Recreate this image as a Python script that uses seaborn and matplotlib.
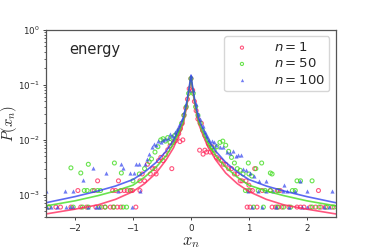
import numpy as np
import pandas as pd
import matplotlib
matplotlib.use("Agg")
import matplotlib.pyplot as plt
import seaborn as sns

# ── fitted curves (symmetric about 0) ──
curve_x_half = [0.0, 0.03, 0.07, 0.13, 0.2, 0.3, 0.43, 0.6, 0.8, 1.0, 1.3, 1.6, 2.0, 2.5]
curve_n1   = [0.13, 0.08, 0.042, 0.02, 0.0128, 0.0072, 0.0043, 0.0025, 0.0016, 0.00115, 0.00083, 0.00066, 0.00055, 0.00045]
curve_n50  = [0.14, 0.085, 0.046, 0.022, 0.0145, 0.0085, 0.0051, 0.0032, 0.0021, 0.0015, 0.00118, 0.00097, 0.00078, 0.00063]
curve_n100 = [0.15, 0.09, 0.05, 0.025, 0.0165, 0.0098, 0.0062, 0.0039, 0.0026, 0.0019, 0.00145, 0.00118, 0.00093, 0.00072]

# ── histogram points ──
L1, L2 = 6e-4, 1.2e-3   # one and two counts

x_n1_low = [-2.46, -2.33, -2.25, -2.07, -1.90, -1.80, -1.64, -1.54, -1.48, -1.39, -1.34, -1.27, -1.21, -0.95,
            0.97, 1.02, 1.14, 1.40, 1.46, 1.51, 1.57, 1.69, 1.83, 1.89, 1.95, 2.06, 2.15, 2.24, 2.32, 2.44]
x_n1_two = [-1.95, -1.67, -1.35, -1.30, -1.21, -1.15, -1.10, -1.04, -1.01, -0.88,
            1.02, 1.06, 1.23, 1.37, 1.49, 1.54, 2.20]
x_n1_mid = [-1.61, -1.25, -0.88, -0.84, -0.80, -0.75, -0.70, -0.66, -0.62, -0.60, -0.56, -0.52, -0.48,
            -0.44, -0.40, -0.36, -0.33, -0.30, -0.27, -0.24, -0.21, -0.18, -0.15, -0.12, -0.09, -0.06,
            -0.03, 0.0, 0.03, 0.06, 0.09, 0.12, 0.15, 0.18, 0.21, 0.24, 0.27, 0.30, 0.33, 0.36, 0.40,
            0.44, 0.48, 0.52, 0.56, 0.60, 0.65, 0.70, 0.75, 0.80, 0.85, 0.88, 0.95, 1.0, 1.1, -0.19, -0.14]
y_n1_mid = [1.8e-3, 1.8e-3, 1.8e-3, 2.4e-3, 1.8e-3, 3.6e-3, 2.4e-3, 3.0e-3, 3.0e-3, 2.4e-3, 4.2e-3, 4.8e-3, 4.2e-3,
            5.4e-3, 6.6e-3, 7.8e-3, 3.0e-3, 9.0e-3, 9.6e-3, 1.1e-2, 1.3e-2, 1.6e-2, 2.0e-2, 2.8e-2, 3.8e-2, 5.5e-2,
            8.5e-2, 0.13, 0.08, 0.05, 0.034, 0.024, 6.5e-3, 0.02, 5.5e-3, 6.5e-3, 6.0e-3, 8.5e-3, 6.0e-3, 7.5e-3, 5.8e-3,
            4.8e-3, 4.5e-3, 4.2e-3, 3.6e-3, 3.6e-3, 3.0e-3, 3.0e-3, 2.4e-3, 2.4e-3, 1.8e-3, 1.8e-3, 1.8e-3, 1.5e-3, 3.0e-3, 9.3e-3, 1.0e-2]

x_n50_low = [-2.45, -2.03, -1.87, -1.77, -1.58, -1.48, -1.33, -1.17, -1.11,
             1.08, 1.25, 1.49, 1.60, 1.72, 2.09, 2.21, 2.35, 2.47]
x_n50_two = [-1.84, -1.79, -1.70, -1.61, -1.56, -1.05,
             0.94, 0.99, 1.16, 1.28, 1.37, 1.51, 1.75, 1.80]
x_n50_mid = [-2.07, -1.90, -1.77, -1.32, -1.20, -0.89, -1.00, -0.80, -0.72, -0.68, -0.62, -0.57, -0.52, -0.48,
             -0.44, -0.40, -0.36, -0.32, -0.28, -0.24, -0.20, -0.16, -0.12, -0.08, -0.04, 0.0, 0.04, 0.08,
             0.12, 0.16, 0.20, 0.24, 0.28, 0.32, 0.36, 0.40, 0.45, 0.50, 0.55, 0.60, 0.65, 0.70, 0.75, 0.80,
             0.85, 0.90, 1.00, 1.05, 1.12, 1.22, 1.37, 1.83, 1.89, 2.09, 1.40, 0.99]
y_n50_mid = [3.1e-3, 2.5e-3, 3.6e-3, 3.8e-3, 2.5e-3, 2.4e-3, 1.8e-3, 3.0e-3, 4.0e-3, 4.5e-3, 6.0e-3, 7.5e-3, 1.0e-2, 1.05e-2,
             9.5e-3, 1.1e-2, 9.0e-3, 1.1e-2, 1.2e-2, 1.3e-2, 1.5e-2, 2.0e-2, 2.8e-2, 4.0e-2, 7.0e-2, 0.13, 0.07, 0.04,
             0.028, 0.02, 0.015, 0.012, 0.010, 8.0e-3, 7.2e-3, 6.5e-3, 7.5e-3, 9.0e-3, 9.5e-3, 8.0e-3, 6.2e-3, 4.8e-3, 3.8e-3, 3.0e-3,
             2.8e-3, 2.4e-3, 2.4e-3, 2.2e-3, 3.0e-3, 3.8e-3, 2.5e-3, 1.8e-3, 1.8e-3, 1.8e-3, 2.4e-3, 3.8e-3]

x_n100_low = [-2.48, -2.41, -2.31, -2.16, -2.09, -2.03, -1.77, -1.64, -1.58, -1.01,
              1.05, 1.23, 1.46, 1.69, 1.92, 2.01, 2.29, 2.38]
x_n100_two = [-2.50, -2.18, -2.04, -1.26, -0.88,
              0.99, 1.16, 1.30, 1.42, 1.58, 1.66, 1.80, 2.01, 2.44]
x_n100_mid = [-1.87, -1.69, -1.46, -1.18, -1.20, -1.05, -0.98, -0.94, -0.90, -0.80, -0.76, -0.72, -0.68, -0.64,
              -0.60, -0.56, -0.52, -0.48, -0.44, -0.40, -0.36, -0.32, -0.28, -0.24, -0.20, -0.16, -0.12, -0.08,
              -0.04, 0.0, 0.04, 0.08, 0.12, 0.16, 0.20, 0.24, 0.28, 0.32, 0.36, 0.40, 0.44, 0.50, 0.55, 0.62,
              0.68, 0.72, 0.78, 0.82, 0.86, 0.90, 0.95, 1.02, 1.08, 1.17, 1.30, 1.60, 1.89]
y_n100_mid = [1.9e-3, 3.1e-3, 2.5e-3, 3.1e-3, 3.7e-3, 2.5e-3, 2.5e-3, 3.7e-3, 3.7e-3, 3.7e-3, 4.5e-3, 5.5e-3, 7.5e-3, 8.5e-3,
              8.0e-3, 9.5e-3, 9.0e-3, 1.0e-2, 1.05e-2, 1.1e-2, 1.3e-2, 1.2e-2, 1.4e-2, 1.6e-2, 1.9e-2, 2.4e-2, 3.2e-2, 4.5e-2,
              8.0e-2, 0.145, 0.08, 0.045, 0.03, 0.024, 0.018, 0.014, 0.012, 0.010, 9.5e-3, 9.0e-3, 8.2e-3, 7.5e-3, 7.5e-3, 6.0e-3,
              5.8e-3, 6.2e-3, 5.2e-3, 5.3e-3, 5.3e-3, 3.0e-3, 2.8e-3, 2.5e-3, 2.2e-3, 1.8e-3, 1.8e-3, 1.5e-3, 1.8e-3]

labels = [r"$n=1$", r"$n=50$", r"$n=100$"]
colors = ["#ff2b5e", "#44dd22", "#3344ee"]


def points(x_low, x_two, x_mid, y_mid, label):
    xs = list(x_low) + list(x_two) + list(x_mid)
    ys = [L1] * len(x_low) + [L2] * len(x_two) + list(y_mid)
    return pd.DataFrame({"x": xs, "P": ys, "series": label})


df = pd.concat([
    points(x_n1_low, x_n1_two, x_n1_mid, y_n1_mid, labels[0]),
    points(x_n50_low, x_n50_two, x_n50_mid, y_n50_mid, labels[1]),
    points(x_n100_low, x_n100_two, x_n100_mid, y_n100_mid, labels[2]),
], ignore_index=True)

half = np.array(curve_x_half)
cx = np.concatenate([-half[::-1], half[1:]])
curves = pd.concat([
    pd.DataFrame({"x": cx, "P": np.concatenate([c[::-1], c[1:]]), "series": lab})
    for c, lab in zip([curve_n1, curve_n50, curve_n100], labels)
], ignore_index=True)

sns.set_style("ticks")
plt.rcParams["font.family"] = ["DejaVu Sans"]

fig = plt.figure(figsize=(3.74, 2.49), dpi=100)
ax = fig.add_axes([0.123, 0.127, 0.775, 0.753])

palette = dict(zip(labels, colors))
sns.lineplot(data=curves, x="x", y="P", hue="series", palette=palette,
             lw=1.2, alpha=0.8, legend=False, ax=ax, sort=False)

for lab, col, mk in zip(labels, colors, ["o", "o", "^"]):
    sub = df[df["series"] == lab]
    if mk == "o":
        ax.scatter(sub["x"], sub["P"], s=8, marker="o", facecolors="none",
                   edgecolors=col, linewidths=0.8, alpha=0.8, label=lab)
    else:
        ax.scatter(sub["x"], sub["P"], s=9, marker="^", color=col,
                   linewidths=0, alpha=0.7, label=lab)

ax.set_yscale("log")
ax.set_xlim(-2.5, 2.5)
ax.set_ylim(3.9e-4, 1.0)
ax.set_xticks([-2, -1, 0, 1, 2])
ax.tick_params(labelsize=6.3, length=2.5, width=0.6, pad=2)
ax.tick_params(which="minor", length=1.5, width=0.5)
for s in ax.spines.values():
    s.set_color("#555555")
    s.set_linewidth(0.9)

ax.set_xlabel(r"$x_n$", fontsize=12, math_fontfamily="cm")
ax.set_ylabel(r"$P(x_n)$", fontsize=10.5, math_fontfamily="cm")
ax.xaxis.set_label_coords(0.5, -0.08)
ax.yaxis.set_label_coords(-0.094, 0.5)
ax.text(0.08, 0.87, "energy", transform=ax.transAxes, fontsize=10.5)

leg = ax.legend(loc="upper right", fontsize=9.5, markerscale=0.8, handletextpad=1.4,
                borderpad=0.35, labelspacing=0.25, frameon=True)

fig.savefig("out.png", dpi=100)
